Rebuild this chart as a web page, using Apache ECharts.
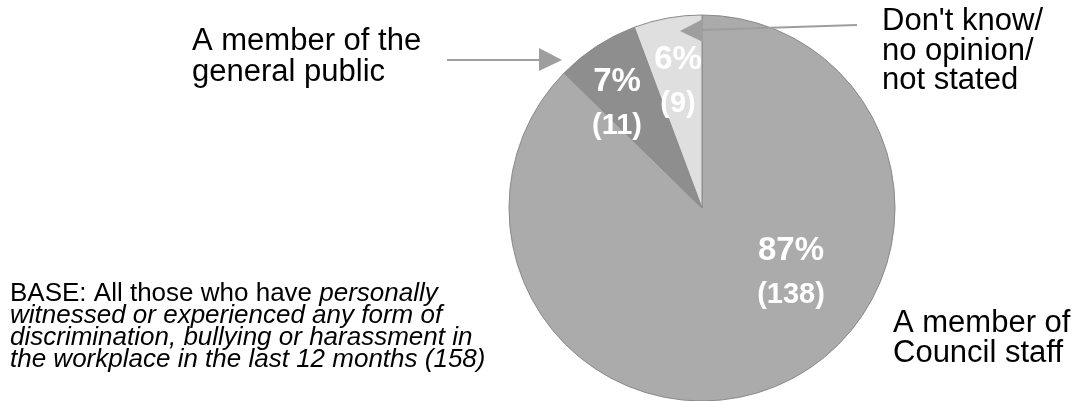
<!DOCTYPE html>
<html>
<head>
<meta charset="utf-8">
<script src="https://cdn.jsdelivr.net/npm/echarts@6/dist/echarts.min.js"></script>
<style>
html,body{margin:0;padding:0;background:#fff;}
#chart{width:1086px;height:401px;}
</style>
</head>
<body>
<div id="chart"></div>
<script>
// ---- data ----
const categories = ['A member of Council staff', 'A member of the general public', "Don't know/ no opinion/ not stated"];
const categoryLines = [['A member of', 'Council staff'], ['A member of the', 'general public'], ["Don't know/", 'no opinion/', 'not stated']];
const counts = [138, 11, 9];
const percents = [87, 7, 6];
const baseNormal = 'BASE: All those who have ';
const baseItalicLines = ['personally', 'witnessed or experienced any form of', 'discrimination, bullying or harassment in', 'the workplace in the last 12 months (158)'];

// ---- style ----
const sliceColors = ['#ababab', '#8e8e8e', '#dfdfdf'];
const labelPos = [[791, 273], [617, 104], [678, 82]];
const FONT = '"Liberation Sans", Arial, sans-serif';

const chart = echarts.init(document.getElementById('chart'), null, {renderer: 'canvas'});

const pieData = categories.map((c, i) => ({
  name: c,
  value: counts[i],
  itemStyle: {color: sliceColors[i]}
}));

const baseText = '{n|' + baseNormal + '}{i|' + baseItalicLines[0] + '}\n' +
  baseItalicLines.slice(1).map(l => '{i|' + l + '}').join('\n');

const arrowColor = '#9e9e9e';

chart.setOption({
  animation: false,
  backgroundColor: '#ffffff',
  series: [{
    type: 'pie',
    center: [702, 208],
    radius: 193,
    startAngle: 90,
    clockwise: true,
    data: pieData,
    itemStyle: {borderColor: '#8a8a8a', borderWidth: 1},
    emphasis: {disabled: true},
    label: {
      show: true,
      position: 'inside',
      formatter: p => '{p|' + percents[p.dataIndex] + '%}\n{c|(' + counts[p.dataIndex] + ')}',
      rich: {
        p: {fontFamily: FONT, fontWeight: 'bold', fontSize: 33, color: '#ffffff', lineHeight: 44, align: 'center'},
        c: {fontFamily: FONT, fontWeight: 'bold', fontSize: 29, color: '#ffffff', lineHeight: 44, align: 'center'}
      }
    },
    labelLine: {show: false},
    labelLayout: p => ({x: labelPos[p.dataIndex][0], y: labelPos[p.dataIndex][1], align: 'center', verticalAlign: 'middle'})
  }],
  graphic: [
    // arrow to general public slice
    {type: 'line', shape: {x1: 447, y1: 60, x2: 541, y2: 60}, style: {stroke: arrowColor, lineWidth: 2}, z: 10},
    {type: 'polygon', shape: {points: [[539, 48], [562, 60], [539, 71]]}, style: {fill: arrowColor}, z: 10},
    // arrow to don't know slice
    {type: 'line', shape: {x1: 857, y1: 25, x2: 701, y2: 30}, style: {stroke: arrowColor, lineWidth: 2}, z: 10},
    {type: 'polygon', shape: {points: [[703, 19], [680, 31], [703, 42]]}, style: {fill: arrowColor}, z: 10},
    // category labels
    {type: 'text', left: 192, top: 26, style: {text: categoryLines[1].join('\n'), font: '31px ' + FONT, fill: '#000', lineHeight: 31}, z: 10},
    {type: 'text', left: 882, top: 6, style: {text: categoryLines[2].join('\n'), font: '31px ' + FONT, fill: '#000', lineHeight: 29.5}, z: 10},
    {type: 'text', left: 893, top: 308, style: {text: categoryLines[0].join('\n'), font: '31px ' + FONT, fill: '#000', lineHeight: 30}, z: 10},
    // base note
    {type: 'text', left: 10, top: 281, style: {
      text: baseText,
      rich: {
        n: {fontFamily: FONT, fontSize: 26, fill: '#000', lineHeight: 22},
        i: {fontFamily: FONT, fontSize: 26, fontStyle: 'italic', fill: '#000', lineHeight: 22}
      }
    }, z: 10}
  ]
});
</script>
</body>
</html>
